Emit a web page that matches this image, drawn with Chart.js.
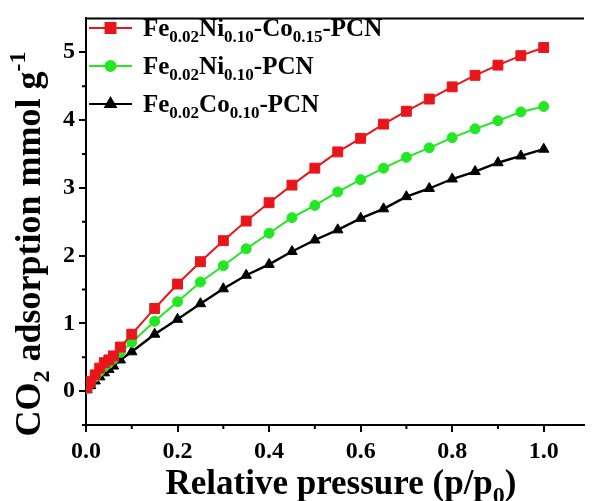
<!DOCTYPE html>
<html>
<head>
<meta charset="utf-8">
<script src="https://cdn.jsdelivr.net/npm/chart.js@4/dist/chart.umd.min.js"></script>
<style>
  html, body { margin: 0; padding: 0; background: #fff; }
  #fontProbe { font: bold 20px "Liberation Serif"; position: absolute; left: -999px; top: 0; }
</style>
</head>
<body>
<canvas id="isoChart" width="592" height="501"></canvas>
<span id="fontProbe">Fe 0.1</span>
<script>
// relative pressure (p/p0)
var pressure = [0.002, 0.01, 0.02, 0.03, 0.04, 0.05, 0.06, 0.075, 0.1,
  0.15, 0.2, 0.25, 0.3, 0.35, 0.4, 0.45, 0.5, 0.55, 0.6, 0.65, 0.7, 0.75, 0.8, 0.85, 0.9, 0.95, 1.0];

// CO2 uptake, mmol/g
var feNiCo = [0.05, 0.14, 0.24, 0.34, 0.42, 0.46, 0.52, 0.65, 0.84,
  1.22, 1.58, 1.91, 2.22, 2.51, 2.78, 3.04, 3.29, 3.53, 3.73, 3.94, 4.13, 4.31, 4.49, 4.66, 4.81, 4.95, 5.07];
var feNi = [0.04, 0.12, 0.21, 0.29, 0.36, 0.41, 0.47, 0.57, 0.72,
  1.03, 1.32, 1.61, 1.85, 2.10, 2.33, 2.56, 2.74, 2.94, 3.12, 3.29, 3.45, 3.59, 3.74, 3.87, 3.99, 4.12, 4.20];
var feCo = [0.02, 0.08, 0.15, 0.21, 0.27, 0.32, 0.37, 0.46, 0.58,
  0.84, 1.06, 1.29, 1.51, 1.71, 1.87, 2.06, 2.23, 2.38, 2.55, 2.69, 2.87, 2.99, 3.13, 3.24, 3.37, 3.47, 3.57];

var xTicks = [0.0, 0.2, 0.4, 0.6, 0.8, 1.0];
var xMinor = [0.1, 0.3, 0.5, 0.7, 0.9];
var yTicks = [0, 1, 2, 3, 4, 5];
var yMinor = [-0.5, 0.5, 1.5, 2.5, 3.5, 4.5];

// names with sub/superscripts: [text, 'sub'|'sup'|undefined]
var seriesNames = [
  [['Fe'], ['0.02', 'sub'], ['Ni'], ['0.10', 'sub'], ['-Co'], ['0.15', 'sub'], ['-PCN']],
  [['Fe'], ['0.02', 'sub'], ['Ni'], ['0.10', 'sub'], ['-PCN']],
  [['Fe'], ['0.02', 'sub'], ['Co'], ['0.10', 'sub'], ['-PCN']]
];
var xTitle = [['Relative pressure (p/p'], ['0', 'sub'], [')']];
var yTitle = [['CO'], ['2', 'sub'], [' adsorption mmol g'], ['-1', 'sup']];

var colors = ['#e8161b', '#22e822', '#000000'];
var markers = ['rect', 'circle', 'triangle'];
var markerSize = [7, 5, 6];

var SERIF = '"Liberation Serif", "Times New Roman", serif';

function toPoints(vals) {
  return vals.map(function (v, i) { return { x: pressure[i], y: v }; });
}

// draws text runs, sub/sup at smaller size; returns width
function drawRich(ctx, parts, x, y, size, measureOnly) {
  var w = 0;
  parts.forEach(function (p) {
    var small = p[1] ? Math.round(size * 0.68) : size;
    ctx.font = 'bold ' + small + 'px ' + SERIF;
    var dy = p[1] === 'sub' ? size * 0.25 : (p[1] === 'sup' ? -size * 0.42 : 0);
    if (!measureOnly) ctx.fillText(p[0], x + w, y + dy);
    w += ctx.measureText(p[0]).width;
  });
  return w;
}

var decorPlugin = {
  id: 'decor',
  afterDraw: function (chart) {
    var ctx = chart.ctx;
    var area = chart.chartArea;
    var xs = chart.scales.x, ys = chart.scales.y;
    ctx.save();
    ctx.strokeStyle = '#000';
    ctx.lineWidth = 2;

    // top frame line
    ctx.beginPath();
    ctx.moveTo(area.left - 1, area.top);
    ctx.lineTo(area.right, area.top);
    ctx.stroke();

    // minor ticks
    ctx.beginPath();
    xMinor.forEach(function (v) {
      var px = xs.getPixelForValue(v);
      ctx.moveTo(px, area.bottom);
      ctx.lineTo(px, area.bottom + 4);
    });
    yMinor.forEach(function (v) {
      var py = ys.getPixelForValue(v);
      ctx.moveTo(area.left, py);
      ctx.lineTo(area.left - 4, py);
    });
    ctx.stroke();

    ctx.fillStyle = '#000';
    ctx.textBaseline = 'alphabetic';
    ctx.textAlign = 'left';

    // x title
    var tw = drawRich(ctx, xTitle, 0, 0, 35, true);
    drawRich(ctx, xTitle, 341 - tw / 2, 494, 35);

    // y title (rotated)
    ctx.save();
    ctx.translate(40, 0);
    ctx.rotate(-Math.PI / 2);
    var th = drawRich(ctx, yTitle, 0, 0, 36, true);
    drawRich(ctx, yTitle, -(244 + th / 2), 0, 36);
    ctx.restore();

    // legend
    var rows = [28, 66, 104];
    rows.forEach(function (ry, i) {
      ctx.strokeStyle = colors[i];
      ctx.lineWidth = 2;
      ctx.beginPath();
      ctx.moveTo(89, ry);
      ctx.lineTo(132, ry);
      ctx.stroke();
      Chart.helpers.drawPoint(ctx, {
        pointStyle: markers[i], radius: markerSize[i], rotation: 0, borderWidth: 1
      }, 110.5, ry);
      ctx.fillStyle = colors[i];
      ctx.fill();
      ctx.fillStyle = '#000';
      drawRich(ctx, seriesNames[i], 143, ry + 8, 25);
    });
    ctx.restore();
  }
};

var datasets = [feNiCo, feNi, feCo].map(function (vals, i) {
  return {
    data: toPoints(vals),
    borderColor: colors[i],
    backgroundColor: colors[i],
    borderWidth: i === 2 ? 2.4 : 2,
    pointStyle: markers[i],
    pointRadius: markerSize[i],
    pointBorderWidth: 1,
    tension: 0
  };
});

function buildChart() {
  new Chart(document.getElementById('isoChart').getContext('2d'), {
    type: 'line',
    data: { datasets: datasets },
    options: {
      responsive: false,
      animation: false,
      devicePixelRatio: 1,
      layout: { padding: { top: 13, right: 0, left: 0, bottom: 0 } },
      plugins: { legend: { display: false }, tooltip: { enabled: false } },
      scales: {
        x: {
          type: 'linear',
          min: 0,
          max: 1.088,
          afterBuildTicks: function (scale) {
            scale.ticks = xTicks.map(function (v) { return { value: v }; });
          },
          afterFit: function (scale) { scale.height = 76; },
          border: { color: '#000', width: 2 },
          grid: { drawOnChartArea: false, drawTicks: true, tickLength: 7, color: '#000', lineWidth: 2 },
          ticks: {
            autoSkip: false,
            maxRotation: 0,
            padding: 5,
            color: '#000',
            font: { family: SERIF, size: 24, weight: 'bold' },
            callback: function (v) { return Number(v).toFixed(1); }
          }
        },
        y: {
          type: 'linear',
          min: -0.5,
          max: 5.5,
          afterBuildTicks: function (scale) {
            scale.ticks = yTicks.map(function (v) { return { value: v }; });
          },
          afterFit: function (scale) { scale.width = 86; },
          border: { color: '#000', width: 2 },
          grid: { drawOnChartArea: false, drawTicks: true, tickLength: 7, color: '#000', lineWidth: 2 },
          ticks: {
            autoSkip: false,
            padding: 4,
            color: '#000',
            font: { family: SERIF, size: 24, weight: 'bold' },
            callback: function (v) { return String(v); }
          }
        }
      }
    },
    plugins: [decorPlugin]
  });
}

if (document.fonts && document.fonts.load) {
  document.fonts.load('bold 24px "Liberation Serif"').then(buildChart, buildChart);
} else {
  buildChart();
}
</script>
</body>
</html>
